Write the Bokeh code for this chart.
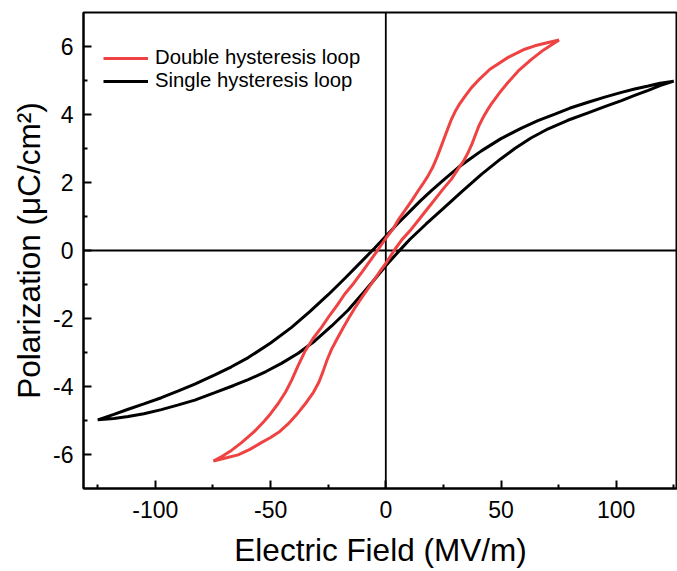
from bokeh.plotting import figure
from bokeh.models import Range1d, Span, FixedTicker, Legend, LegendItem
from bokeh.embed import file_html
from bokeh.resources import INLINE

# Double hysteresis loop (red): descending branch then ascending branch
double_E = [75.2, 70.0, 64.7, 60.3, 53.1, 45.2, 40.8, 37.2, 34.5, 32.2, 30.2, 28.5, 27.0, 25.5,
            23.9, 22.2, 20.3, 18.2, 16.0, 14.0, 11.2, 8.0, 5.4, 3.0, 0.0, -3.6, -7.0, -10.5, -14.0,
            -17.8, -21.0, -24.5, -27.9, -31.5, -35.2, -38.3, -40.9, -43.5, -46.7, -50.0, -52.8,
            -57.0, -62.6, -67.0, -71.0, -74.8,
            -70.0, -64.1, -59.0, -54.0, -50.0, -46.0, -42.4, -38.0, -34.5, -31.4, -29.0, -27.3,
            -25.5, -23.5, -21.0, -18.5, -16.0, -13.5, -10.6, -7.5, -5.0, -2.5, 0.0, 3.6, 7.0,
            11.0, 14.5, 18.0, 21.5, 25.0, 28.5, 31.4, 34.0, 35.8, 37.5, 39.0, 40.5, 42.2, 44.0,
            46.0, 49.5, 53.1, 57.5, 63.2, 68.5, 72.0, 75.2]
double_P = [6.19, 6.11, 6.02, 5.92, 5.68, 5.33, 5.05, 4.79, 4.55, 4.33, 4.10, 3.86, 3.60, 3.33,
            3.04, 2.74, 2.44, 2.18, 1.95, 1.75, 1.46, 1.15, 0.90, 0.62, 0.36, 0.0, -0.32, -0.65,
            -0.97, -1.28, -1.60, -1.92, -2.26, -2.58, -2.98, -3.42, -3.82, -4.16, -4.50, -4.80,
            -5.02, -5.32, -5.65, -5.88, -6.05, -6.19,
            -6.11, -6.01, -5.85, -5.65, -5.50, -5.32, -5.10, -4.77, -4.47, -4.17, -3.87, -3.57,
            -3.22, -2.90, -2.58, -2.27, -1.98, -1.70, -1.40, -1.10, -0.86, -0.61, -0.38, 0.0, 0.32,
            0.62, 0.92, 1.22, 1.52, 1.82, 2.10, 2.40, 2.66, 2.89, 3.15, 3.42, 3.68, 3.91, 4.12,
            4.33, 4.65, 4.95, 5.28, 5.62, 5.90, 6.05, 6.19]

# Single hysteresis loop (black): descending branch then ascending branch
single_E = [125, 119, 113.9, 108, 102.3, 95, 87.8, 80, 73.4, 66, 58.9, 50, 41.5, 36.5, 31.4,
            25.5, 19.8, 15.0, 9.7, 5.0, 0, -5.0, -10.5, -17.5, -25.0, -33.0, -40.9, -50.0,
            -59.7, -67.0, -74.2, -82.9, -90, -97.4, -105, -111.8, -118, -125,
            -118, -111.8, -105, -97.4, -90, -82.9, -74.2, -66, -59.7, -52, -45.3, -38, -30.8,
            -23.5, -16.3, -9.5, -5.0, 0, 5.0, 10.5, 17.5, 25.0, 33.0, 41.5, 50.0, 56.0, 63.0,
            70.5, 79.0, 87.8, 95.0, 102.3, 108.0, 113.9, 119.0, 125]
single_P = [4.98, 4.92, 4.84, 4.75, 4.65, 4.51, 4.36, 4.19, 4.01, 3.82, 3.60, 3.29, 2.93, 2.69,
            2.44, 2.10, 1.76, 1.46, 1.10, 0.78, 0.42, 0.06, -0.32, -0.80, -1.30, -1.80, -2.26,
            -2.72, -3.15, -3.42, -3.66, -3.93, -4.13, -4.33, -4.51, -4.67, -4.82, -4.98,
            -4.94, -4.88, -4.80, -4.68, -4.54, -4.40, -4.18, -3.97, -3.80, -3.56, -3.32, -3.02,
            -2.66, -2.22, -1.75, -1.22, -0.86, -0.45, -0.07, 0.33, 0.78, 1.24, 1.73, 2.24, 2.70,
            3.00, 3.31, 3.58, 3.83, 4.05, 4.23, 4.41, 4.56, 4.71, 4.85, 4.98]

x_major = [-100, -50, 0, 50, 100]
x_minor = [-125, -75, -25, 25, 75, 125]
y_major = [-6, -4, -2, 0, 2, 4, 6]
y_minor = [-5, -3, -1, 1, 3, 5]

labels = ["Double hysteresis loop", "Single hysteresis loop"]
FONT = "Liberation Sans"
RED = "#EF4343"

p = figure(width=677, height=571, output_backend="svg", toolbar_location=None,
           x_range=Range1d(-131.2, 126.6), y_range=Range1d(-7, 7),
           min_border_left=83, min_border_right=0, min_border_top=12, min_border_bottom=83)
p.background_fill_color = "white"
p.border_fill_color = "white"
p.outline_line_color = "black"
p.outline_line_width = 2
p.grid.visible = False

p.xaxis.ticker = FixedTicker(ticks=x_major, minor_ticks=x_minor)
p.yaxis.ticker = FixedTicker(ticks=y_major, minor_ticks=y_minor)
p.xaxis.major_label_overrides = {t: str(t) for t in x_major}
p.yaxis.major_label_overrides = {t: str(t) for t in y_major}
for ax in (p.xaxis, p.yaxis):
    ax.axis_line_width = 2
    ax.major_tick_line_width = 2
    ax.minor_tick_line_width = 2
    ax.major_tick_in = 8
    ax.major_tick_out = 0
    ax.minor_tick_in = 4
    ax.minor_tick_out = 0
    ax.major_label_text_font = FONT
    ax.major_label_text_font_size = "23px"
    ax.major_label_text_color = "black"
    ax.axis_label_text_font = FONT
    ax.axis_label_text_font_size = "31.5px"
    ax.axis_label_text_font_style = "normal"
    ax.axis_label_text_color = "black"
p.xaxis.axis_label = "Electric Field (MV/m)"
p.yaxis.axis_label = "Polarization (μC/cm²)"
p.xaxis.major_label_standoff = 12
p.xaxis.axis_label_standoff = 11
p.yaxis.major_label_standoff = 10
p.yaxis.axis_label_standoff = 3

p.add_layout(Span(location=0, dimension="height", line_color="black", line_width=1.8, level="underlay"))
p.add_layout(Span(location=0, dimension="width", line_color="black", line_width=1.8, level="underlay"))

r_single = p.line(single_E, single_P, line_color="black", line_width=3)
r_double = p.line(double_E, double_P, line_color=RED, line_width=3)

legend = Legend(items=[LegendItem(label=labels[0], renderers=[r_double]),
                       LegendItem(label=labels[1], renderers=[r_single])],
                location=(20, 396), border_line_color=None, background_fill_alpha=0,
                label_text_font=FONT, label_text_font_size="20.3px", label_text_color="black",
                glyph_width=45, glyph_height=20, label_height=20, spacing=-3,
                padding=0, margin=0, label_standoff=7)
p.add_layout(legend)

open("out.html", "w").write(file_html(p, INLINE))
